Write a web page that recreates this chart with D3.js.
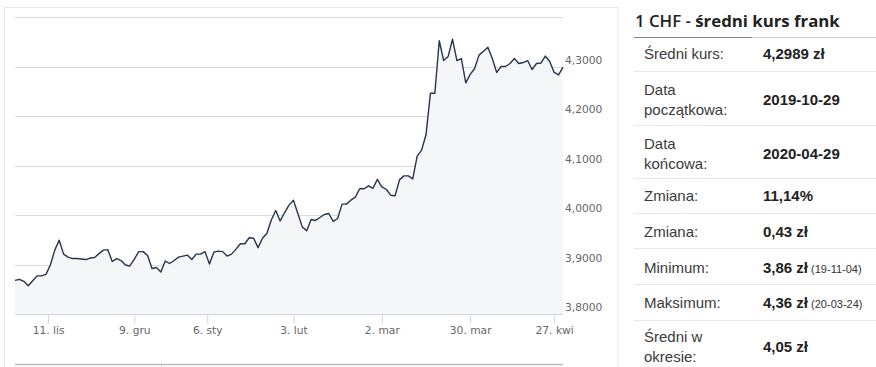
<!DOCTYPE html>
<html><head><meta charset="utf-8">
<script src="https://cdn.jsdelivr.net/npm/d3@7"></script>
<style>body{margin:0;background:#fff;overflow:hidden} svg{display:block}</style>
</head><body>
<svg id="c" width="876" height="367"></svg>
<script>
const dates = [
"2019-10-29","2019-10-30","2019-10-31",
"2019-11-04","2019-11-05","2019-11-06","2019-11-07","2019-11-08",
"2019-11-12","2019-11-13","2019-11-14","2019-11-15",
"2019-11-18","2019-11-19","2019-11-20","2019-11-21","2019-11-22",
"2019-11-25","2019-11-26","2019-11-27","2019-11-28","2019-11-29",
"2019-12-02","2019-12-03","2019-12-04","2019-12-05","2019-12-06",
"2019-12-09","2019-12-10","2019-12-11","2019-12-12","2019-12-13",
"2019-12-16","2019-12-17","2019-12-18","2019-12-19","2019-12-20",
"2019-12-23","2019-12-24","2019-12-27","2019-12-30","2019-12-31",
"2020-01-02","2020-01-03",
"2020-01-07","2020-01-08","2020-01-09","2020-01-10",
"2020-01-13","2020-01-14","2020-01-15","2020-01-16","2020-01-17",
"2020-01-20","2020-01-21","2020-01-22","2020-01-23","2020-01-24",
"2020-01-27","2020-01-28","2020-01-29","2020-01-30","2020-01-31",
"2020-02-03","2020-02-04","2020-02-05","2020-02-06","2020-02-07",
"2020-02-10","2020-02-11","2020-02-12","2020-02-13","2020-02-14",
"2020-02-17","2020-02-18","2020-02-19","2020-02-20","2020-02-21",
"2020-02-24","2020-02-25","2020-02-26","2020-02-27","2020-02-28",
"2020-03-02","2020-03-03","2020-03-04","2020-03-05","2020-03-06",
"2020-03-09","2020-03-10","2020-03-11","2020-03-12","2020-03-13",
"2020-03-16","2020-03-17","2020-03-18","2020-03-19","2020-03-20",
"2020-03-23","2020-03-24","2020-03-25","2020-03-26","2020-03-27",
"2020-03-30","2020-03-31",
"2020-04-01","2020-04-02","2020-04-03",
"2020-04-06","2020-04-07","2020-04-08","2020-04-09","2020-04-10",
"2020-04-14","2020-04-15","2020-04-16","2020-04-17",
"2020-04-20","2020-04-21","2020-04-22","2020-04-23","2020-04-24",
"2020-04-27","2020-04-28","2020-04-29"
];
const rates = [
3.868,3.870,3.866,
3.857,3.867,3.877,3.877,3.880,
3.899,3.929,3.949,3.921,
3.915,3.912,3.912,3.911,3.910,
3.913,3.914,3.922,3.929,3.930,
3.906,3.912,3.908,3.899,3.897,
3.911,3.926,3.926,3.918,3.892,
3.894,3.885,3.907,3.902,3.908,
3.915,3.917,3.919,3.910,3.921,
3.921,3.926,
3.901,3.925,3.927,3.926,
3.917,3.921,3.931,3.942,3.942,
3.954,3.953,3.934,3.953,3.963,
3.990,4.009,3.988,4.005,4.020,
4.030,4.003,3.976,3.968,3.991,
3.989,3.995,4.001,4.003,3.987,
3.993,4.022,4.022,4.030,4.036,
4.053,4.053,4.059,4.054,4.072,
4.057,4.052,4.040,4.039,4.071,
4.079,4.079,4.073,4.119,4.131,
4.162,4.246,4.246,4.352,4.312,
4.320,4.355,4.312,4.316,4.267,
4.284,4.296,
4.323,4.331,4.339,
4.316,4.288,4.300,4.300,4.306,
4.316,4.306,4.308,4.312,
4.294,4.306,4.307,4.321,4.310,
4.288,4.283,4.2989
];
const tickDates = ["2019-11-11","2019-12-09","2020-01-06","2020-02-03","2020-03-02","2020-03-30","2020-04-27"];
const tickLabels = ["11. lis","9. gru","6. sty","3. lut","2. mar","30. mar","27. kwi"];
const yTicks = [3.8,3.9,4.0,4.1,4.2,4.3,4.4];

const titleParts = ["1 CHF - ","średni kurs frank"];
const statLabels = [["Średni kurs:"],["Data","początkowa:"],["Data","końcowa:"],["Zmiana:"],["Zmiana:"],["Minimum:"],["Maksimum:"],["Średni w","okresie:"]];
const statValues = ["4,2989 zł","2019-10-29","2020-04-29","11,14%","0,43 zł","3,86 zł","4,36 zł","4,05 zł"];
const statNotes  = ["","","","","","(19-11-04)","(20-03-24)",""];

const svg = d3.select("#c");
const L = 15, R = 563, T = 17, B = 314;

// panel border
svg.append("rect").attr("x",4.5).attr("y",7.5).attr("width",613.5).attr("height",400)
  .attr("fill","none").attr("stroke","#e8e8e8");

const x = d3.scaleLinear().domain([0, dates.length-1]).range([L, R]);
const y = d3.scaleLinear().domain([3.8, 4.4]).range([B, T]);

// grid
svg.append("g").selectAll("line").data(yTicks).join("line")
  .attr("x1",L).attr("x2",R).attr("y1",d=>Math.round(y(d))+0.5).attr("y2",d=>Math.round(y(d))+0.5)
  .attr("stroke","#dadada");

// area + line
svg.append("path").datum(rates)
  .attr("d", d3.area().x((d,i)=>x(i)).y0(y(3.8)).y1(d=>y(d)))
  .attr("fill","#f4f6f8");
svg.append("path").datum(rates)
  .attr("d", d3.line().x((d,i)=>x(i)).y(d=>y(d)))
  .attr("fill","none").attr("stroke","#26344e").attr("stroke-width",1.4).attr("stroke-linejoin","round");

// y axis labels
const fmt = v => d3.format(".4f")(v).replace(".", ",");
const yAxis = svg.append("g").attr("transform",`translate(${R},0)`)
  .call(d3.axisRight(y).tickValues(yTicks.filter(v=>v<4.35)).tickSize(0).tickPadding(2).tickFormat(fmt));
yAxis.select(".domain").remove();
yAxis.selectAll("text").attr("font-family","DejaVu Sans").attr("font-size","10.7px").attr("fill","#666").attr("y",-6.5);

// x axis
function posOf(ds){
  const i = dates.indexOf(ds);
  if (i >= 0) return i;
  const j = dates.findIndex(d => d > ds);
  return j - 0.5;
}
const tickPos = tickDates.map(posOf);
const xAxis = svg.append("g").attr("transform",`translate(0,${B+0.5})`)
  .call(d3.axisBottom(x).tickValues(tickPos).tickSize(9).tickFormat((d,i)=>tickLabels[i]));
xAxis.select(".domain").attr("stroke","#ccd6eb").attr("d",`M${L},0H${R}`);
xAxis.selectAll(".tick line").attr("stroke","#ccd6eb");
xAxis.selectAll("text").attr("font-family","DejaVu Sans").attr("font-size","10.7px").attr("fill","#666").attr("dy",0).attr("y",19);

// navigator remnants at bottom
svg.append("line").attr("x1",L).attr("x2",R).attr("y1",364.5).attr("y2",364.5).attr("stroke","#bbb").attr("stroke-width",1.5);
svg.append("line").attr("x1",161.5).attr("x2",161.5).attr("y1",365).attr("y2",367).attr("stroke","#ddd");

// stats table
const tx = 635;
const title = svg.append("text").attr("x",tx).attr("y",27).attr("font-family","Open Sans").attr("font-size","16.8px").attr("fill","#222");
title.append("tspan").attr("font-weight",600).text(titleParts[0]);
title.append("tspan").attr("font-weight",700).text(titleParts[1]);
svg.append("line").attr("x1",634).attr("x2",752).attr("y1",37.5).attr("y2",37.5).attr("stroke","#888");
svg.append("line").attr("x1",752).attr("x2",876).attr("y1",37.5).attr("y2",37.5).attr("stroke","#ccc");

const seps = [71.5,125.5,178.5,213.5,248.5,284.5,320.5];
svg.append("g").selectAll("line").data(seps).join("line")
  .attr("x1",634).attr("x2",876).attr("y1",d=>d).attr("y2",d=>d).attr("stroke","#e6e6e6");

const rowCenters = [53.3,100,153.3,196,231.7,267.3,302.7,346.7];
const rows = svg.append("g").selectAll("g").data(statLabels).join("g");
rows.each(function(lab,i){
  const g = d3.select(this);
  const c = rowCenters[i];
  lab.forEach((t,k)=>{
    const cy = lab.length===1 ? c : c + (k===0?-10:10);
    g.append("text").attr("x",644).attr("y",cy+5.3).attr("font-family","Liberation Sans")
      .attr("font-size","15px").attr("fill","#3a3a3a").text(t);
  });
  const v = g.append("text").attr("x",763).attr("y",c+5.3).attr("font-family","Liberation Sans")
    .attr("font-size","15px").attr("font-weight","bold").attr("fill","#222").text(statValues[i]);
  if (statNotes[i]) {
    v.append("tspan").attr("font-weight","normal").attr("font-size","11px").attr("fill","#333").text(" " + statNotes[i]);
  }
});
</script>
</body></html>
